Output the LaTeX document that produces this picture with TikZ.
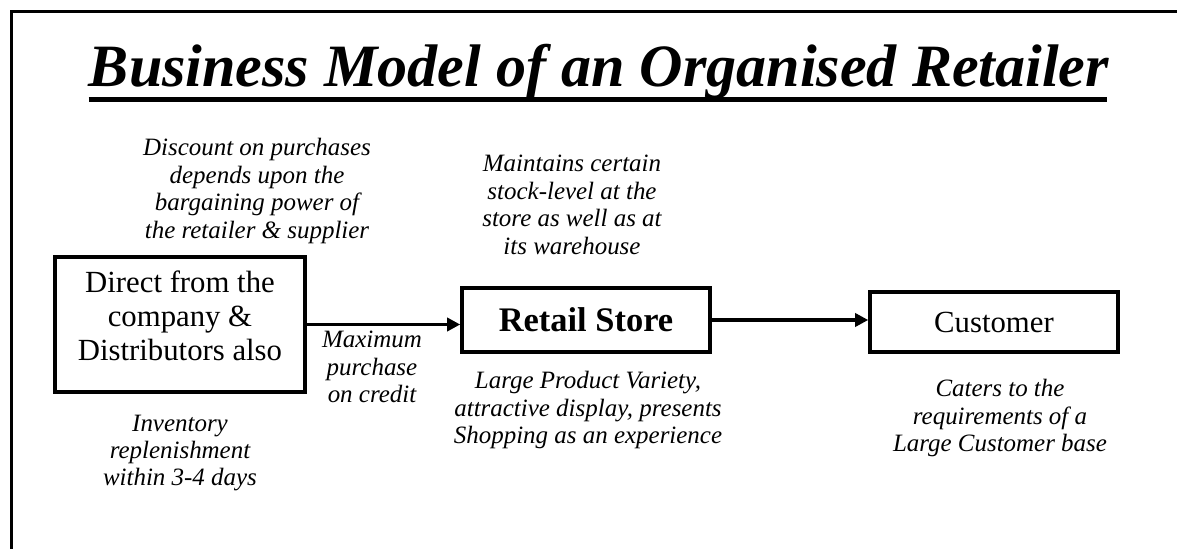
\documentclass[tikz,border=0pt]{standalone}
\usepackage{fontspec}
\setmainfont{Liberation Serif}
\usetikzlibrary{arrows.meta,calc}

\begin{document}
\begin{tikzpicture}[
  box/.style={rectangle, draw, line width=2pt, align=center, inner sep=2pt, font=\fontsize{17.5}{19.3}\selectfont},
  arrow/.style={-{Triangle[length=2.6mm, width=2.6mm]}, line width=2pt},
  note/.style={font=\fontsize{14.2}{15.6}\selectfont\itshape, align=center, inner sep=0pt},
]
\useasboundingbox (0,0) rectangle (23.54,10.96);

% === FRAME AND HEADING ===
\draw[line width=2pt] (23.7,10.73) -- (0.23,10.73) -- (0.23,-0.2);

\node[anchor=base, inner sep=0pt, font=\fontsize{34.2}{40}\selectfont\bfseries\itshape] (title) at (11.98, 9.22)
  {Business Model of an Organised Retailer};
\draw[line width=2.8pt] ($(title.base west)+(0,-0.25)$) -- ($(title.base east)+(-0.04,-0.25)$);

% === CHAIN: SUPPLIER -> STORE -> CUSTOMER ===
\node[box, minimum width=5.0cm, minimum height=2.7cm, text depth=0.36cm] (src) at (3.6, 4.47) {Direct from the\\company \&\\Distributors also};
\node[box, minimum width=4.96cm, minimum height=1.28cm, font=\fontsize{19.6}{22}\selectfont\bfseries] (store) at (11.72, 4.56) {Retail Store};
\node[box, minimum width=4.96cm, minimum height=1.2cm] (cust) at (19.88, 4.52) {Customer};

\draw[arrow] (src) -- (src -| store.west);
\draw[arrow] (store) -- (store -| cust.west);

% === NOTES ===
\node[note] (disc) at (5.14, 7.14) {Discount on purchases\\depends upon the\\bargaining power of\\the retailer \& supplier};
\node[note] (stock) at (11.44, 6.86) {Maintains certain\\stock-level at the\\store as well as at\\its warehouse};
\node[note] (credit) at (7.44, 3.62) {Maximum\\purchase\\on credit};
\node[note] (inv) at (3.6, 1.9) {Inventory\\replenishment\\within 3-4 days};
\node[note] (variety) at (11.76, 2.76) {Large Product Variety,\\attractive display, presents\\Shopping as an experience};
\node[note] (caters) at (20.0, 2.6) {Caters to the\\requirements of a\\Large Customer base};
\end{tikzpicture}
\end{document}
